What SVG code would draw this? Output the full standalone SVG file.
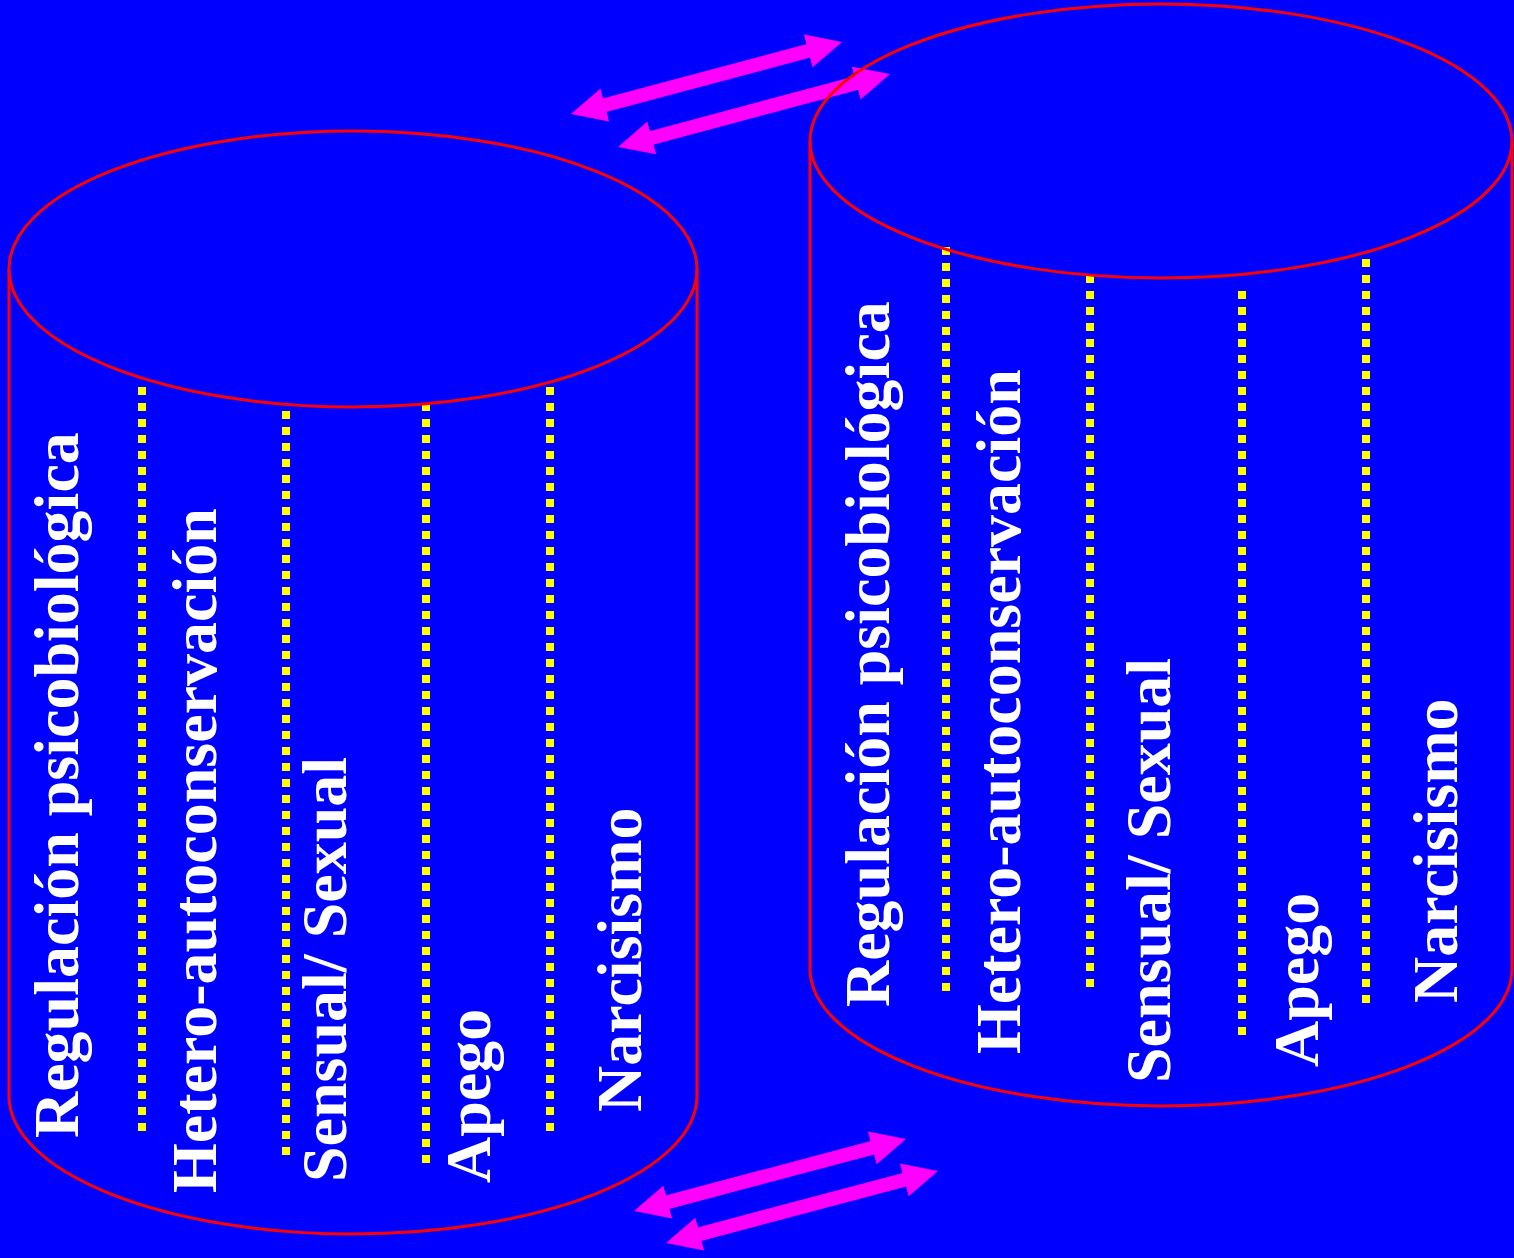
<svg xmlns="http://www.w3.org/2000/svg" width="1514" height="1258" viewBox="0 0 1514 1258">
  <style>
    .cyl { fill: none; stroke: #FF0000; stroke-width: 3; }
    .dots { stroke: #FFFF00; stroke-width: 8; stroke-dasharray: 8 8; fill: none; }
    .lbl { font-family: "Liberation Serif", "Times New Roman", serif; font-weight: bold; font-size: 64px; fill: #FFFFFF; }
    .arr { stroke: #FF00FF; stroke-width: 14; fill: none; marker-start: url(#head); marker-end: url(#head); }
  </style>
  <defs>
    <marker id="head" markerUnits="userSpaceOnUse" viewBox="0 0 35 34" markerWidth="35" markerHeight="34" refX="15" refY="17" orient="auto-start-reverse">
      <path d="M0,0 L35,17 L0,34 Z" fill="#FF00FF"/>
    </marker>
  </defs>
  <rect x="0" y="0" width="1514" height="1258" fill="#0000FF"/>

  <g id="connectors">
    <line class="arr" x1="590.3" y1="108.9" x2="822.7" y2="47.1"/>
    <line class="arr" x1="637.3" y1="141.8" x2="870.7" y2="79.2"/>
    <line class="arr" x1="653.3" y1="1205.9" x2="886.7" y2="1144.1"/>
    <line class="arr" x1="685.3" y1="1237.9" x2="918.7" y2="1176.1"/>
  </g>

  <g id="cylinder-left">
    <line class="dots" x1="142" y1="387" x2="142" y2="1131"/>
    <line class="dots" x1="286" y1="411" x2="286" y2="1155"/>
    <line class="dots" x1="426" y1="403" x2="426" y2="1163"/>
    <line class="dots" x1="550" y1="387" x2="550" y2="1131"/>
    <ellipse class="cyl" cx="353" cy="269" rx="344" ry="138"/>
    <path class="cyl" d="M9,269 L9,1096 A344,138 0 0 0 697,1096 L697,269"/>
    <text class="lbl" transform="translate(78,1138) rotate(-90)">Regulación psicobiológica</text>
    <text class="lbl" transform="translate(216,1193) rotate(-90)">Hetero-autoconservación</text>
    <text class="lbl" transform="translate(346,1182) rotate(-90)">Sensual/ Sexual</text>
    <text class="lbl" transform="translate(490,1183) rotate(-90)">Apego</text>
    <text class="lbl" transform="translate(641,1112) rotate(-90)">Narcisismo</text>
  </g>

  <g id="cylinder-right">
    <line class="dots" x1="946" y1="247" x2="946" y2="991"/>
    <line class="dots" x1="1090" y1="275" x2="1090" y2="987"/>
    <line class="dots" x1="1242" y1="291" x2="1242" y2="1035"/>
    <line class="dots" x1="1366" y1="259" x2="1366" y2="1003"/>
    <ellipse class="cyl" cx="1161" cy="141" rx="351" ry="137"/>
    <path class="cyl" d="M810,141 L810,969 A351,137 0 0 0 1512,969 L1512,141"/>
    <text class="lbl" transform="translate(889,1007) rotate(-90)">Regulación psicobiológica</text>
    <text class="lbl" transform="translate(1020,1054) rotate(-90)">Hetero-autoconservación</text>
    <text class="lbl" transform="translate(1170,1083) rotate(-90)">Sensual/ Sexual</text>
    <text class="lbl" transform="translate(1318,1067) rotate(-90)">Apego</text>
    <text class="lbl" transform="translate(1457,1003) rotate(-90)">Narcisismo</text>
  </g>
</svg>
